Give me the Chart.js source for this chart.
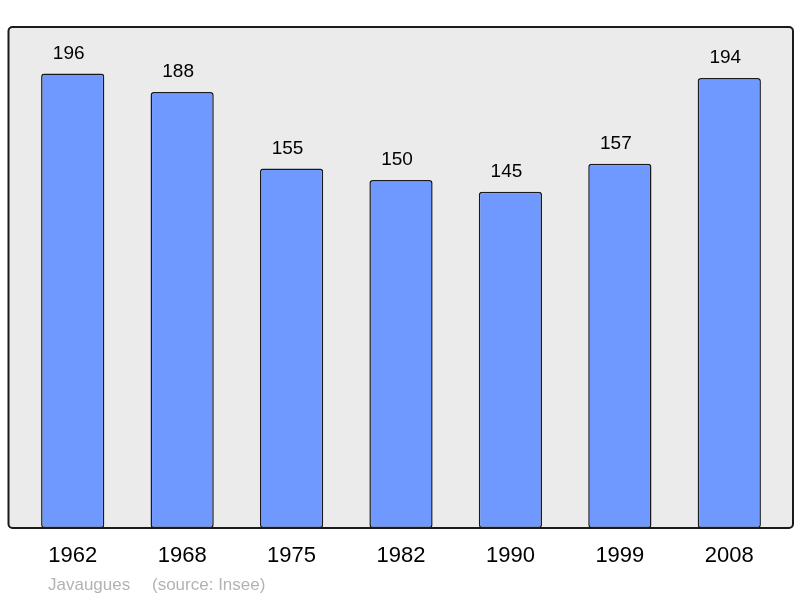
<!DOCTYPE html>
<html>
<head>
<meta charset="utf-8">
<script src="https://cdn.jsdelivr.net/npm/chart.js@4.4.0/dist/chart.umd.min.js"></script>
<style>
    html, body { margin: 0; padding: 0; background: #ffffff; }
    #wrap { width: 800px; height: 598px; }
</style>
</head>
<body>
<div id="wrap"><canvas id="popChart" width="800" height="598"></canvas></div>
<script>
const years = ['1962', '1968', '1975', '1982', '1990', '1999', '2008'];
const population = [196, 188, 155, 150, 145, 157, 194];
const footerText = ['Javaugues', '(source: Insee)'];

// grey panel behind the bars, outlined after bars are drawn
const panelPlugin = {
    id: 'panel',
    beforeDatasetsDraw(chart) {
        const a = chart.chartArea;
        const ctx = chart.ctx;
        ctx.save();
        ctx.beginPath();
        ctx.roundRect(a.left - 9.5, a.top, a.right - a.left + 18.5, a.bottom - a.top, 4);
        ctx.fillStyle = '#ebebeb';
        ctx.fill();
        ctx.restore();
    },
    afterDatasetsDraw(chart) {
        const a = chart.chartArea;
        const ctx = chart.ctx;
        ctx.save();
        ctx.beginPath();
        ctx.roundRect(a.left - 9.5, a.top, a.right - a.left + 18.5, a.bottom - a.top, 4);
        ctx.lineWidth = 2;
        ctx.strokeStyle = '#1a1a1a';
        ctx.stroke();

        // values above bars
        const meta = chart.getDatasetMeta(0);
        ctx.fillStyle = '#000000';
        ctx.font = '19px "Liberation Sans", Arial, sans-serif';
        ctx.textAlign = 'center';
        ctx.textBaseline = 'middle';
        meta.data.forEach((bar, i) => {
            ctx.fillText(String(population[i]), bar.x - 4, bar.y - 20);
        });

        // source line
        ctx.fillStyle = '#b3b3b3';
        ctx.font = '17px "Liberation Sans", Arial, sans-serif';
        ctx.textAlign = 'left';
        ctx.fillText(footerText[0], 48, 585);
        ctx.fillText(footerText[1], 152, 585);
        ctx.restore();
    }
};

new Chart(document.getElementById('popChart'), {
    type: 'bar',
    data: {
        labels: years,
        datasets: [{
            label: 'Population',
            data: population,
            backgroundColor: '#7099ff',
            borderColor: '#1a1a1a',
            borderWidth: 1.5,
            borderRadius: 3,
            borderSkipped: false,
            barPercentage: 0.578,
            categoryPercentage: 1
        }]
    },
    options: {
        responsive: false,
        animation: false,
        layout: {
            padding: { left: 18, right: 16, top: 27, bottom: 0 }
        },
        scales: {
            y: {
                display: false,
                min: 0,
                max: 216
            },
            x: {
                grid: { display: false, drawTicks: false },
                border: { display: false },
                ticks: {
                    color: '#000000',
                    padding: 15,
                    font: { size: 22, family: '"Liberation Sans", Arial, sans-serif' }
                },
                afterFit(scale) {
                    scale.height = 70;
                }
            }
        },
        plugins: {
            legend: { display: false },
            title: { display: false },
            tooltip: { enabled: false }
        }
    },
    plugins: [panelPlugin]
});
</script>
</body>
</html>
